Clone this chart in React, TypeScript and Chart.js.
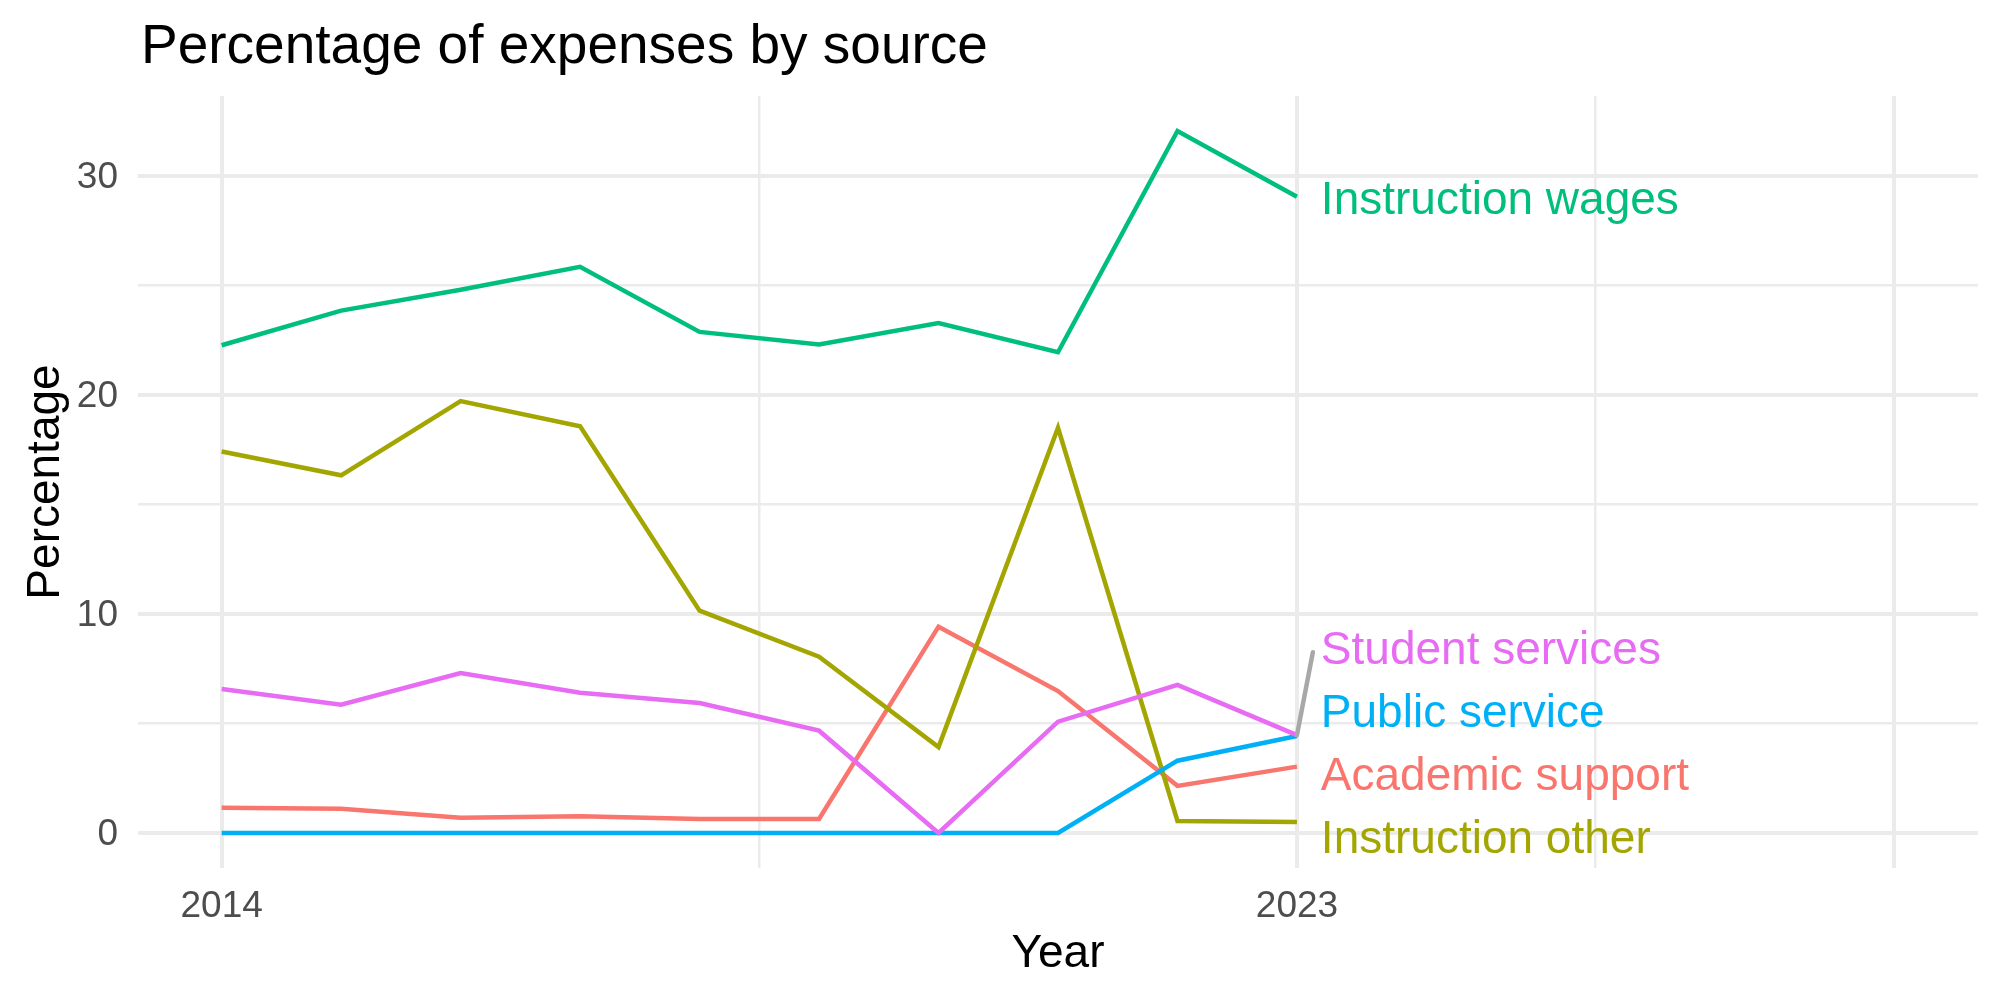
import React, { useEffect, useRef } from "react";
import { Chart, registerables } from "chart.js";

Chart.register(...registerables);

const FONT = "'Liberation Sans', Arial, Helvetica, sans-serif";

// ---- data ----
const years = [2014, 2015, 2016, 2017, 2018, 2019, 2020, 2021, 2022, 2023];
const academicSupport = [1.15, 1.1, 0.7, 0.76, 0.64, 0.64, 9.42, 6.48, 2.15, 3.03];
const instructionOther = [17.42, 16.33, 19.72, 18.57, 10.15, 8.05, 3.92, 18.5, 0.55, 0.5];
const instructionWages = [22.27, 23.85, 24.8, 25.85, 22.88, 22.3, 23.28, 21.95, 32.05, 29.05];
const publicService = [0, 0, 0, 0, 0, 0, 0, 0, 3.3, 4.43];
const studentServices = [6.57, 5.86, 7.3, 6.4, 5.93, 4.67, 0, 5.08, 6.76, 4.47];

const seriesNames = ["Academic support", "Instruction other", "Instruction wages", "Public service", "Student services"];
const seriesValues = [academicSupport, instructionOther, instructionWages, publicService, studentServices];
const seriesColors = ["#F8766D", "#A3A500", "#00BF7D", "#00B0F6", "#E76BF3"];

// label positions (data units, y = centre of capitals)
const labelX = 2023.2;
const labelY = [2.73, -0.18, 29.02, 5.6, 8.48];
const labelHasSegment = [false, false, false, false, true];

const xTicks = [2014, 2018.5, 2023, 2025.5, 2028];
const xTickLabels = ["2014", "", "2023", "", ""];
const xMajor = [true, false, true, false, true];
const yTicks = [0, 5, 10, 15, 20, 25, 30];
const yTickLabels = ["0", "", "10", "", "20", "", "30"];

const titleText = "Percentage of expenses by source";

const LABEL_SIZE = 46;

const overlayPlugin = {
  id: "overlay",
  afterDatasetsDraw(chart: any) {
    const { ctx, scales } = chart;
    const xs = scales.x;
    const ys = scales.y;
    ctx.save();
    // repel segments
    seriesNames.forEach((name, i) => {
      if (!labelHasSegment[i]) return;
      const vals = seriesValues[i];
      const px = xs.getPixelForValue(years[years.length - 1]);
      const py = ys.getPixelForValue(vals[vals.length - 1]);
      const lx = xs.getPixelForValue(labelX) - 8;
      const ly = ys.getPixelForValue(labelY[i]) + 5;
      ctx.strokeStyle = "#A8A8A8";
      ctx.lineWidth = 4.5;
      ctx.lineCap = "round";
      ctx.beginPath();
      ctx.moveTo(px, py);
      ctx.lineTo(lx, ly);
      ctx.stroke();
    });
    // labels
    ctx.font = `${LABEL_SIZE}px ${FONT}`;
    ctx.textAlign = "left";
    ctx.textBaseline = "alphabetic";
    seriesNames.forEach((name, i) => {
      ctx.fillStyle = seriesColors[i];
      const x = xs.getPixelForValue(labelX);
      const y = ys.getPixelForValue(labelY[i]) + 0.358 * LABEL_SIZE;
      ctx.fillText(name, x, y);
    });
    ctx.restore();
  },
  afterDraw(chart: any) {
    const { ctx } = chart;
    ctx.save();
    ctx.font = `55px ${FONT}`;
    ctx.fillStyle = "#000000";
    ctx.textAlign = "left";
    ctx.textBaseline = "alphabetic";
    ctx.fillText(titleText, 141, 63);
    ctx.restore();
  },
};

export default function App() {
  const canvasRef = useRef<HTMLCanvasElement | null>(null);

  useEffect(() => {
    if (!canvasRef.current) return;
    Chart.defaults.font.family = FONT;
    const datasets = seriesNames
      .map((name, i) => ({
        label: name,
        data: years.map((yr, j) => ({ x: yr, y: seriesValues[i][j] })),
        borderColor: seriesColors[i],
        backgroundColor: seriesColors[i],
        borderWidth: 4.5,
        pointRadius: 0,
        tension: 0,
        fill: false,
      }))
      .reverse();

    const chart = new Chart(canvasRef.current, {
      type: "line",
      data: { datasets },
      options: {
        animation: false,
        responsive: false,
        devicePixelRatio: 1,
        layout: { padding: { top: 96, right: 22, bottom: 0, left: 0 } },
        plugins: {
          legend: { display: false },
          tooltip: { enabled: false },
          title: { display: false },
        },
        scales: {
          x: {
            type: "linear",
            min: 2013.3,
            max: 2028.7,
            afterBuildTicks: (s: any) => {
              s.ticks = xTicks.map((v) => ({ value: v }));
            },
            afterFit: (s: any) => {
              s.height = 132;
            },
            ticks: {
              autoSkip: false,
              maxRotation: 0,
              minRotation: 0,
              padding: 17,
              color: "#4D4D4D",
              font: { size: 37 },
              callback: (v: any) => {
                const k = xTicks.indexOf(Number(v));
                return k >= 0 ? xTickLabels[k] : "";
              },
            },
            grid: {
              color: "#EBEBEB",
              drawTicks: false,
              lineWidth: (c: any) => {
                const k = xTicks.indexOf(c.tick ? c.tick.value : NaN);
                return k >= 0 && xMajor[k] ? 4 : 2.5;
              },
            },
            border: { display: false },
            title: {
              display: true,
              text: "Year",
              color: "#000000",
              font: { size: 46 },
              padding: { top: 0, bottom: 18.4 },
            },
          },
          y: {
            type: "linear",
            min: -1.6,
            max: 33.65,
            afterBuildTicks: (s: any) => {
              s.ticks = yTicks.map((v) => ({ value: v }));
            },
            afterFit: (s: any) => {
              s.width = 138;
            },
            ticks: {
              autoSkip: false,
              padding: 20,
              labelOffset: 2,
              color: "#4D4D4D",
              font: { size: 37 },
              callback: (v: any) => {
                const k = yTicks.indexOf(Number(v));
                return k >= 0 ? yTickLabels[k] : "";
              },
            },
            grid: {
              color: "#EBEBEB",
              drawTicks: false,
              lineWidth: (c: any) => {
                const v = c.tick ? c.tick.value : NaN;
                return v % 10 === 0 ? 4 : 2.5;
              },
            },
            border: { display: false },
            title: {
              display: true,
              text: "Percentage",
              color: "#000000",
              font: { size: 46 },
              padding: { top: 18.4, bottom: 0 },
            },
          },
        },
      },
      plugins: [overlayPlugin],
    });
    return () => chart.destroy();
  }, []);

  return (
    <div style={{ position: "absolute", left: 0, top: 0, width: 2000, height: 1000, background: "#ffffff" }}>
      <canvas ref={canvasRef} width={2000} height={1000} style={{ display: "block", width: 2000, height: 1000 }} />
    </div>
  );
}
